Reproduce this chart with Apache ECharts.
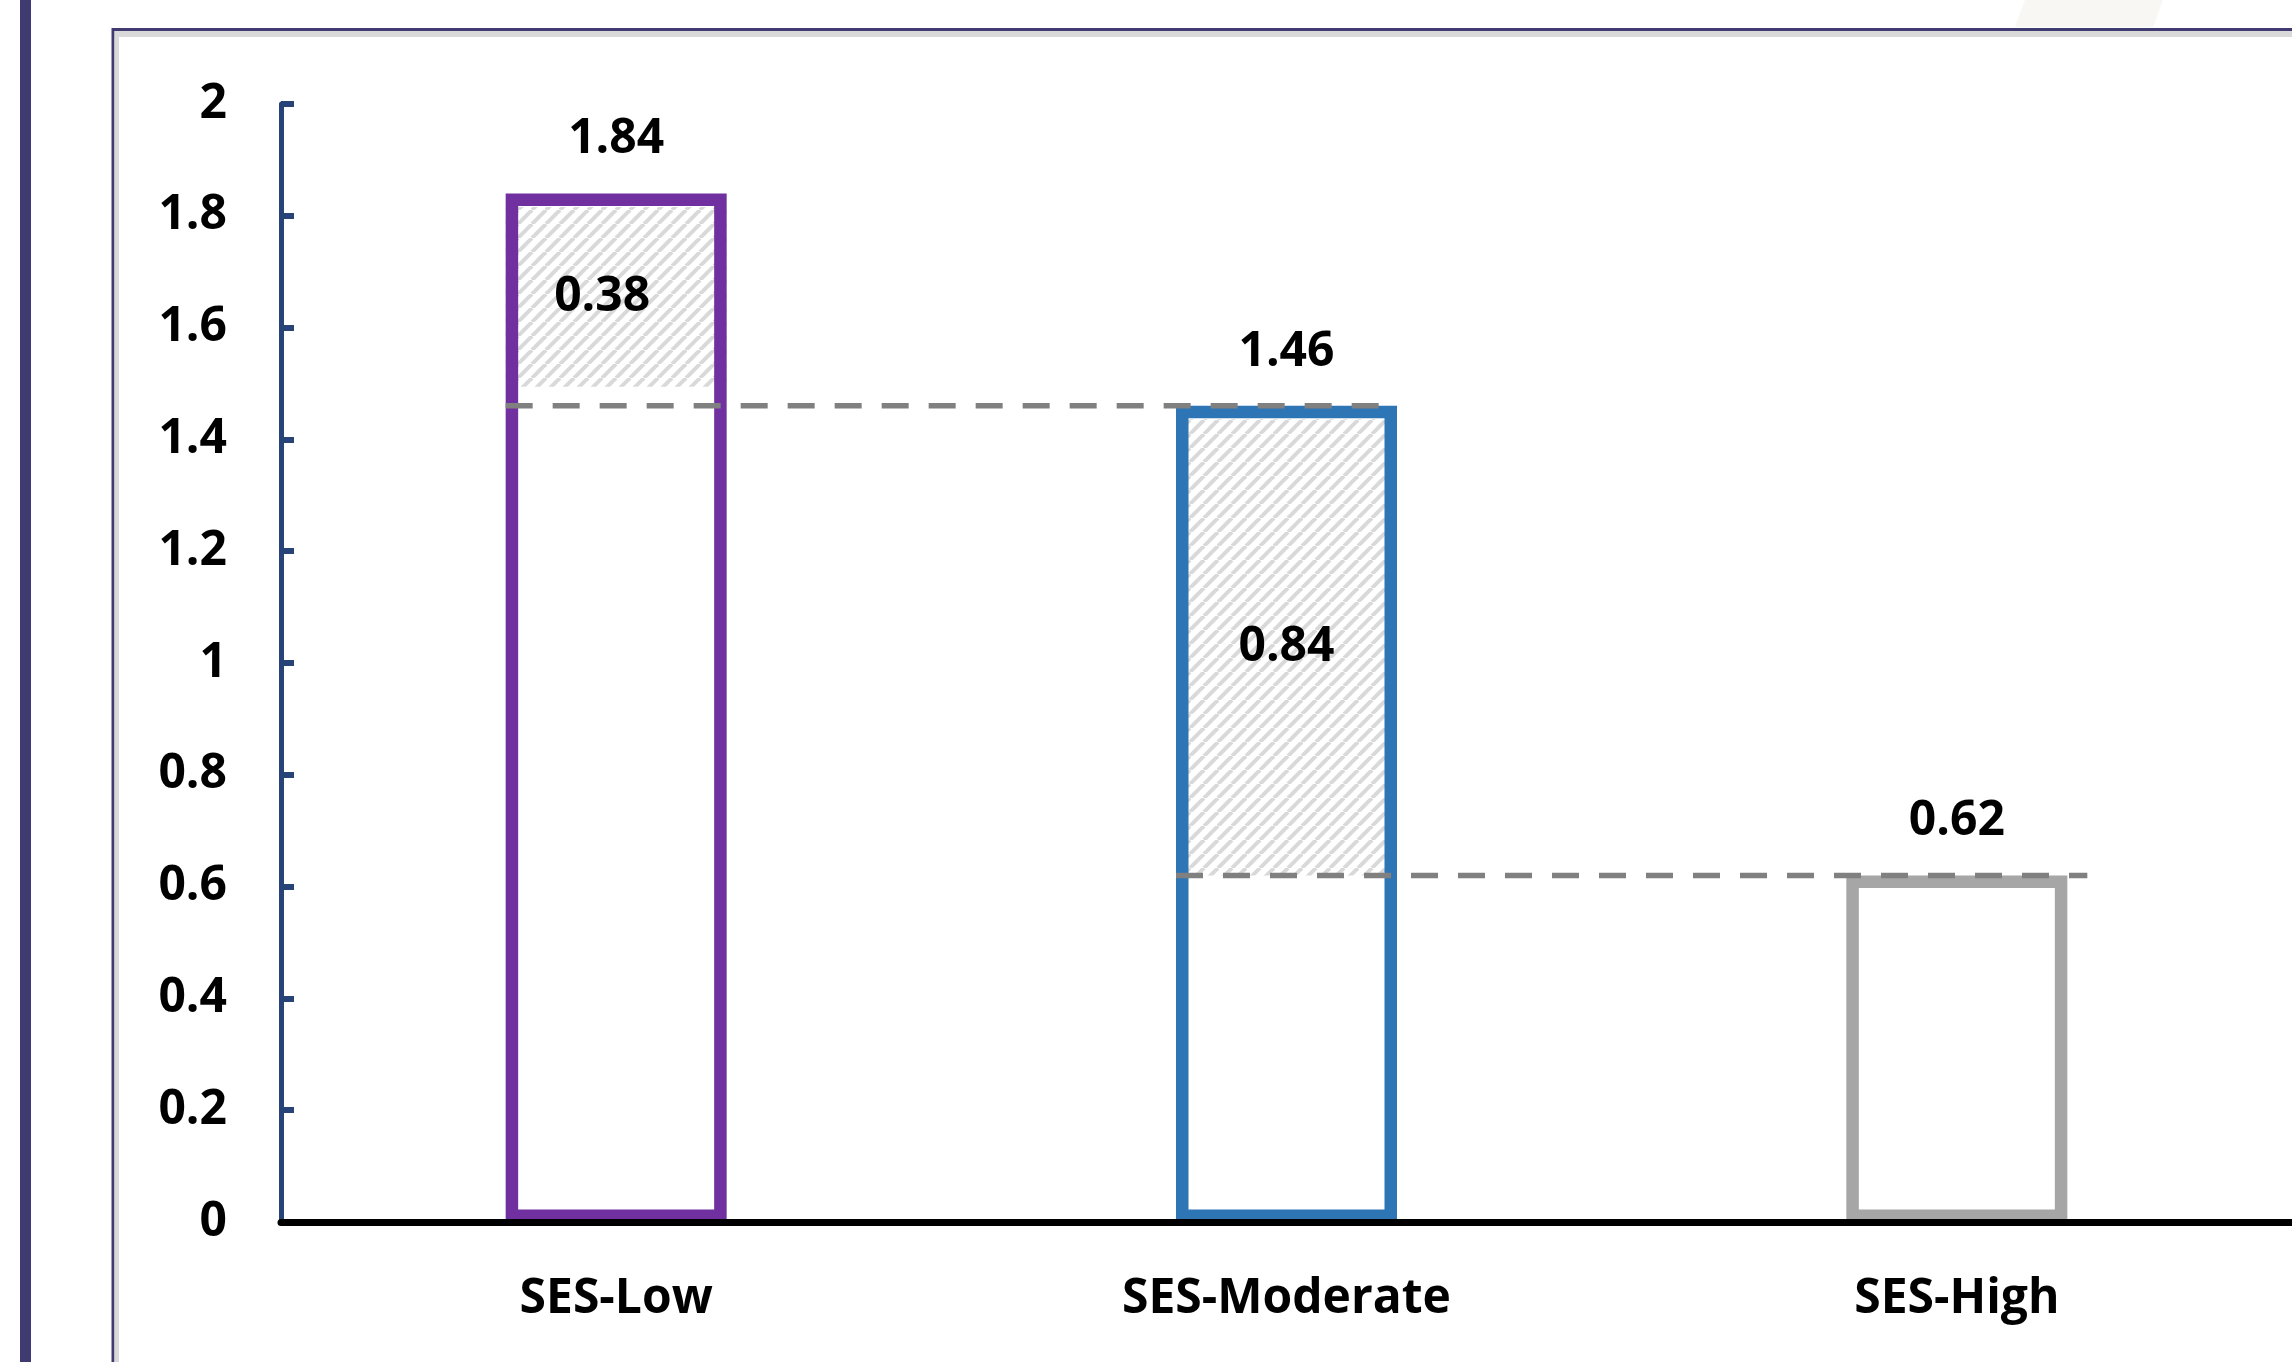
<!DOCTYPE html>
<html>
<head>
<meta charset="utf-8">
<script src="https://cdn.jsdelivr.net/npm/echarts@6/dist/echarts.min.js"></script>
<style>
  html, body { margin: 0; padding: 0; background: #ffffff; }
  #chart { width: 2292px; height: 1362px; }
</style>
</head>
<body>
<div id="chart"></div>
<script>
// Socioeconomic status groups and their values
const categories = ['SES-Low', 'SES-Moderate', 'SES-High'];
const totals = [1.84, 1.46, 0.62];
// step down from each group to the next one
const drops = [0.38, 0.84];
const yTickLabels = ['0', '0.2', '0.4', '0.6', '0.8', '1', '1.2', '1.4', '1.6', '1.8', '2'];

// ---- styling ----
const barColors = ['#7030a0', '#2e75b6', '#a6a6a6'];
const BAR_W = 221;          // outer bar width in px (border drawn inside)
const BORDER_W = 12.5;      // outline thickness
const HATCH_TOP_INSET = 13.5;
const hatchBottomInset = [19, 0];
const stepLabelShift = [-14, 0];
const connectorTail = [0, 20];
const FONT = 'Open Sans';

function hatchPattern() {
  const s = 14;
  const c = document.createElement('canvas');
  c.width = s; c.height = s;
  const g = c.getContext('2d');
  g.fillStyle = '#ffffff';
  g.fillRect(0, 0, s, s);
  g.strokeStyle = '#d9d9d9';
  g.lineWidth = 4;
  for (let k = -1; k <= 1; k++) {
    g.beginPath();
    g.moveTo(k * s, s);
    g.lineTo(k * s + s, 0);
    g.stroke();
  }
  return c;
}
const hatch = hatchPattern();

// hatched segment for each step: [category, from, to, label]
const hatchData = drops.map((d, i) => [i, totals[i] - d, totals[i], d]);
// dashed connector at the next group's level: [fromCategory, toCategory, level]
const connectorData = drops.map((d, i) => [i, i + 1, totals[i + 1]]);

const outlineData = totals.map((v, i) => ({
  value: v,
  itemStyle: { borderColor: barColors[i] }
}));

const labelFont = { fontFamily: FONT, fontWeight: 'bold', fontSize: 48, color: '#000000' };

const chart = echarts.init(document.getElementById('chart'), null, { renderer: 'canvas' });

chart.setOption({
  animation: false,
  backgroundColor: '#ffffff',
  graphic: [
    // left band of the page
    { type: 'rect', z: 0, shape: { x: 20, y: 0, width: 11, height: 1362 }, style: { fill: '#3f3a6f' } },
    // chart frame: dark edge with a light grey inner band
    { type: 'rect', z: 0, shape: { x: 112, y: 28, width: 2180, height: 3 }, style: { fill: '#403c72' } },
    { type: 'rect', z: 0, shape: { x: 114, y: 31, width: 2178, height: 6 }, style: { fill: '#d9d9d9' } },
    { type: 'rect', z: 0, shape: { x: 111.5, y: 28, width: 3, height: 1334 }, style: { fill: '#403c72' } },
    { type: 'rect', z: 0, shape: { x: 114.5, y: 31, width: 4.5, height: 1331 }, style: { fill: '#d9d9d9' } },
    // faint shape above the frame
    { type: 'polygon', z: 0, shape: { points: [[2015, 27], [2025, 0], [2163, 0], [2153, 27]] }, style: { fill: '#f8f7f4' } }
  ],
  grid: { left: 281, right: 0, top: 104, bottom: 140, containLabel: false },
  xAxis: {
    type: 'category',
    data: categories,
    z: 10,
    axisLine: { show: true, lineStyle: { color: '#000000', width: 7 } },
    axisTick: { show: false },
    axisLabel: Object.assign({ margin: 53 }, labelFont),
    splitLine: { show: false }
  },
  yAxis: {
    type: 'value',
    min: 0,
    max: 2,
    interval: 0.2,
    axisLine: { show: true, lineStyle: { color: '#264478', width: 5 } },
    axisTick: { show: true, inside: true, length: 13, lineStyle: { color: '#264478', width: 6 } },
    axisLabel: Object.assign({ margin: 54, formatter: (v, idx) => yTickLabels[idx] }, labelFont),
    splitLine: { show: false }
  },
  series: [
    {
      // hatched step segments
      type: 'custom',
      z: 2,
      data: hatchData,
      encode: { x: 0, y: [1, 2] },
      renderItem: function (params, api) {
        const i = api.value(0);
        const lo = api.coord([i, api.value(1)]);
        const hi = api.coord([i, api.value(2)]);
        const top = hi[1] + HATCH_TOP_INSET;
        const bottom = lo[1] - hatchBottomInset[params.dataIndex];
        const x = lo[0] - BAR_W / 2;
        return {
          type: 'group',
          children: [
            {
              type: 'rect',
              shape: { x: x, y: top, width: BAR_W, height: bottom - top },
              style: { fill: { image: hatch, repeat: 'repeat' } }
            },
            {
              type: 'text',
              z2: 10,
              style: {
                text: api.value(3).toFixed(2),
                x: lo[0] + stepLabelShift[params.dataIndex],
                y: (top + bottom) / 2,
                align: 'center',
                verticalAlign: 'middle',
                font: 'bold 48px "' + FONT + '"',
                fill: '#000000'
              }
            }
          ]
        };
      }
    },
    {
      // bar outlines with value labels
      type: 'bar',
      z: 3,
      data: outlineData,
      barWidth: BAR_W,
      itemStyle: { color: 'rgba(0,0,0,0)', borderWidth: BORDER_W },
      label: Object.assign({
        show: true,
        position: 'top',
        distance: 30,
        formatter: p => p.value.toFixed(2)
      }, labelFont),
      emphasis: { disabled: true }
    },
    {
      // dashed connectors between neighbouring groups
      type: 'custom',
      z: 4,
      data: connectorData,
      encode: { x: [0, 1], y: 2 },
      renderItem: function (params, api) {
        const a = api.coord([api.value(0), api.value(2)]);
        const b = api.coord([api.value(1), api.value(2)]);
        const half = BAR_W / 2;
        return {
          type: 'line',
          shape: { x1: a[0] - half, y1: a[1], x2: b[0] + half + connectorTail[params.dataIndex], y2: b[1] },
          style: { stroke: '#808080', lineWidth: 5.5, lineDash: [27, 20] }
        };
      }
    }
  ]
});
</script>
</body>
</html>
